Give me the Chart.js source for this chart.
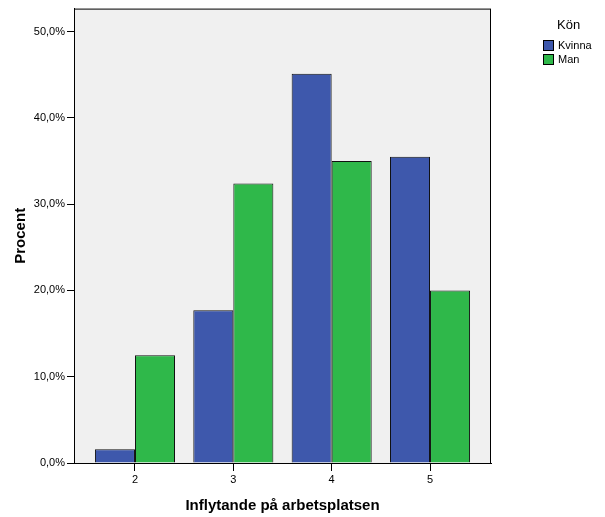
<!DOCTYPE html>
<html>
<head>
<meta charset="utf-8">
<script src="https://cdn.jsdelivr.net/npm/chart.js@4"></script>
<style>
  html, body { margin: 0; padding: 0; background: #fff; }
  #wrap { position: relative; width: 605px; height: 517px; }
  #legend { position: absolute; left: 543px; top: 17px; font-family: "Liberation Sans", Arial, sans-serif; color: #000; }
  #legend .title { font-size: 13px; margin-left: 14px; margin-bottom: 6px; }
  #legend .item { display: flex; align-items: center; font-size: 11px; height: 14px; }
  #legend .box { width: 9px; height: 9px; border: 1px solid #000; margin-right: 4px; }
</style>
</head>
<body>
<div id="wrap">
  <canvas id="c" width="605" height="517"></canvas>
  <div id="legend"></div>
</div>
<script>
const CATEGORIES = [2, 3, 4, 5];
const KVINNA = [1.6, 17.7, 45.1, 35.5];
const MAN    = [12.5, 32.4, 35.0, 20.0];
const Y_TICKS = [0, 10, 20, 30, 40, 50];

const C_KVINNA = '#3e58ac';
const C_MAN    = '#2fb84a';
const FONT = '"Liberation Sans", Arial, sans-serif';

// plot background + box round the chart area
const plotBox = {
  id: 'plotBox',
  beforeDraw(chart) {
    const { ctx, chartArea: a } = chart;
    ctx.save();
    ctx.fillStyle = '#f0f0f0';
    ctx.fillRect(a.left, a.top, a.right - a.left, a.bottom - a.top);
    ctx.restore();
  },
  afterDraw(chart) {
    const { ctx, chartArea: a } = chart;
    ctx.save();
    ctx.strokeStyle = '#000';
    ctx.lineWidth = 1;
    ctx.strokeRect(a.left + 0.5, a.top + 0.5, a.right - a.left - 1, a.bottom - a.top);
    ctx.restore();
  }
};

function pts(arr) {
  return arr.map((v, i) => ({ x: CATEGORIES[i], y: v }));
}

const datasets = [
  { label: 'Kvinna', data: pts(KVINNA), backgroundColor: C_KVINNA },
  { label: 'Man',    data: pts(MAN),    backgroundColor: C_MAN },
].map(d => Object.assign(d, {
  borderColor: '#111',
  borderWidth: 1,
  borderSkipped: 'bottom',
  categoryPercentage: 0.814,
  barPercentage: 1.0,
}));

new Chart(document.getElementById('c'), {
  type: 'bar',
  data: { datasets },
  options: {
    responsive: false,
    animation: false,
    layout: { padding: { left: 0, top: 8, right: 114, bottom: 0 } },
    plugins: { legend: { display: false }, tooltip: { enabled: false } },
    scales: {
      x: {
        type: 'linear',
        min: 1.38,
        max: 5.62,
        offset: false,
        afterBuildTicks: s => { s.ticks = CATEGORIES.map(v => ({ value: v })); },
        afterFit: s => { s.height = 54; },
        grid: { display: true, offset: false, drawOnChartArea: false, drawTicks: true, tickLength: 8, color: '#000' },
        border: { display: true, color: '#000', width: 1 },
        ticks: { font: { family: FONT, size: 11 }, color: '#000', padding: 2, maxRotation: 0 },
        title: {
          display: true, text: 'Inflytande på arbetsplatsen', color: '#000',
          font: { family: FONT, size: 15, weight: 'bold' },
          padding: { top: 0, bottom: 2 },
        },
      },
      y: {
        min: 0,
        max: 52.66,
        afterBuildTicks: s => { s.ticks = Y_TICKS.map(v => ({ value: v })); },
        afterFit: s => { s.width = 74; },
        grid: { display: true, drawOnChartArea: false, drawTicks: true, tickLength: 7, color: '#000' },
        border: { display: true, color: '#000', width: 1 },
        ticks: {
          font: { family: FONT, size: 11 }, color: '#000', padding: 2,
          callback: v => v.toFixed(1).replace('.', ',') + '%',
        },
        title: {
          display: true, text: 'Procent', color: '#000',
          font: { family: FONT, size: 15, weight: 'bold' },
          padding: { top: 12, bottom: 0 },
        },
      },
    },
  },
  plugins: [plotBox],
});

// legend built from the datasets
const lg = document.getElementById('legend');
lg.innerHTML = '<div class="title">Kön</div>' + datasets.map(d =>
  `<div class="item"><span class="box" style="background:${d.backgroundColor}"></span>${d.label}</div>`
).join('');
</script>
</body>
</html>
